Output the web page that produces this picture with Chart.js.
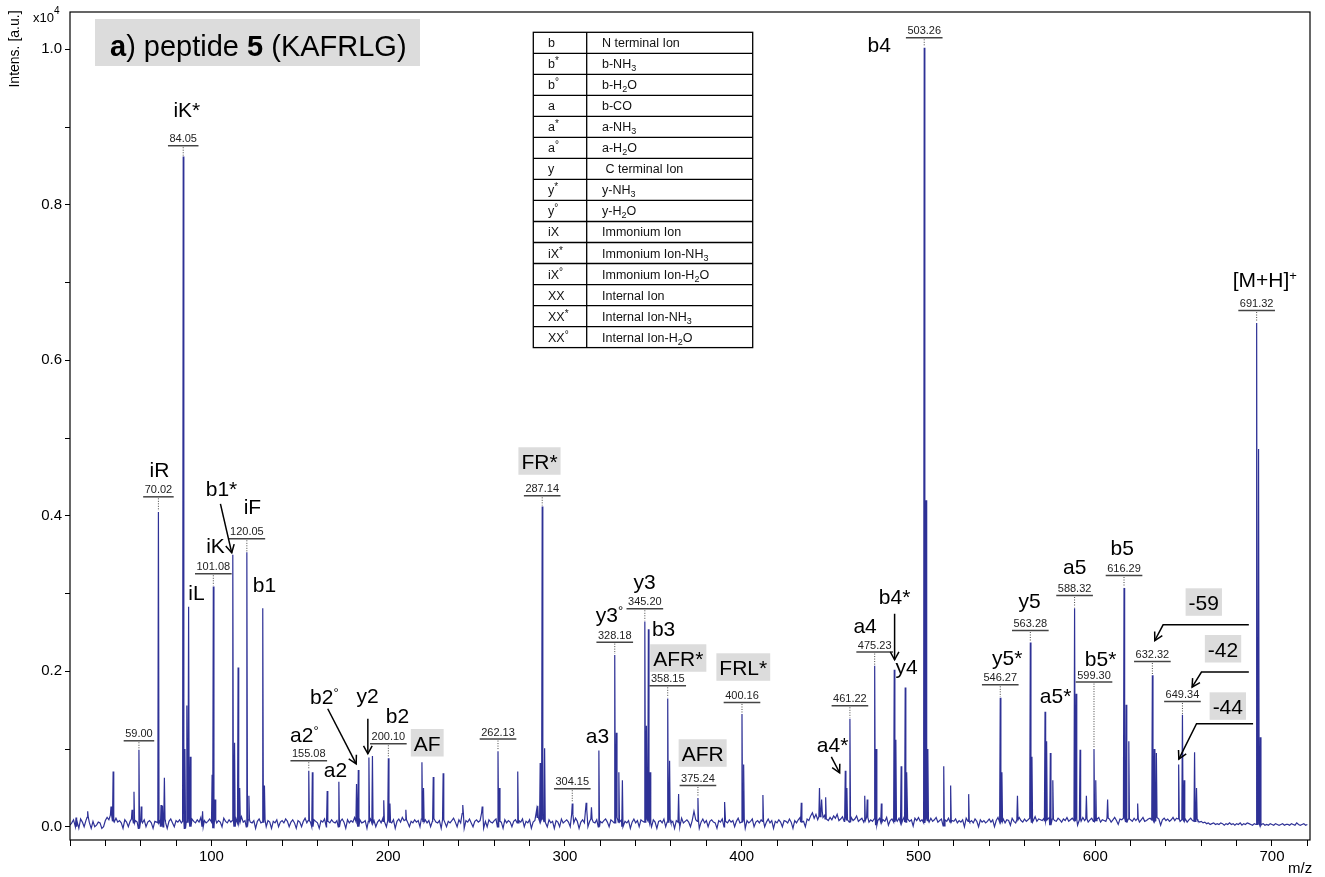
<!DOCTYPE html>
<html><head><meta charset="utf-8">
<script src="https://cdn.jsdelivr.net/npm/chart.js@4.4.0/dist/chart.umd.min.js"></script>
<style>html,body{margin:0;padding:0;background:#fff;}#wrap{width:1325px;height:877px;}</style>
</head><body><div id="wrap"><canvas id="c" width="1325" height="877"></canvas></div>
<script>
// ---------- DATA ----------
// baseline noise, one value per m/z unit starting at m/z 20, in thousandths of 1e4 counts
const baselineStartMz = 20;
const baselinePermil = [
 2,5,9,0,7,-2,10,6,0,8,
 12,5,-2,7,0,2,6,5,-2,0,
 8,12,9,15,7,6,11,6,8,5,
 -2,9,6,0,7,10,5,8,6,-2,
 7,5,9,0,6,8,5,-2,7,6,
 5,8,0,9,6,-2,7,10,5,0,
 8,6,9,5,7,-2,6,8,0,10,
 7,5,9,6,12,0,8,5,7,10,
 6,-2,9,5,8,6,0,11,7,5,
 9,6,8,0,10,5,7,13,6,8,
 0,9,6,5,8,-2,7,10,5,6,
 9,0,8,6,-2,7,5,9,0,6,
 8,5,10,7,0,6,9,5,-2,8,
 6,0,7,11,5,8,6,0,9,7,
 5,-2,8,6,10,0,7,5,9,6,
 5,8,0,7,10,6,-2,9,5,8,
 6,12,7,0,9,5,6,8,-2,7,
 10,5,8,0,6,9,5,11,7,0,
 8,6,5,9,-2,7,10,6,12,8,
 9,6,0,7,5,9,6,8,0,10,
 6,9,5,8,0,7,10,6,5,8,
 -2,9,6,0,7,5,8,11,6,0,
 9,5,17,-2,8,6,10,5,0,7,
 9,6,8,18,-2,7,0,9,6,5,
 8,10,0,7,6,-2,9,5,8,6,
 0,7,9,5,8,6,10,0,7,5,
 9,-2,6,8,22,12,7,10,8,6,
 0,9,5,7,-2,8,6,0,10,5,
 7,9,6,0,16,5,11,7,-2,6,
 9,5,22,0,7,10,6,5,9,0,
 7,5,8,10,6,0,9,7,5,12,
 8,6,9,0,7,5,8,-2,6,10,
 5,8,0,9,7,6,10,8,5,0,
 9,6,-2,7,8,5,10,0,6,9,
 5,7,-2,8,6,0,11,5,7,9,
 6,0,8,20,9,7,-2,6,10,5,
 8,0,7,9,6,5,-2,8,6,10,
 0,7,5,9,6,8,0,7,11,5,
 6,9,-2,8,5,7,10,0,6,8,
 5,9,7,0,6,10,5,8,-2,7,
 5,9,6,0,8,7,5,10,6,-2,
 8,5,9,12,6,7,0,10,8,14,
 18,11,16,9,13,20,12,15,10,8,
 12,9,14,11,16,8,10,13,7,11,
 9,6,12,8,10,14,7,9,11,6,
 8,12,6,9,7,10,2,8,11,6,
 9,7,12,2,8,10,6,9,7,11,
 5,8,13,6,10,7,9,1,11,8,
 12,7,9,5,10,8,6,11,7,9,
 12,6,8,10,1,9,7,11,6,8,
 7,10,5,8,6,9,0,11,7,6,
 8,5,10,7,0,9,6,8,5,7,
 10,6,9,0,8,12,6,7,10,5,
 9,8,2,11,7,5,9,12,8,6,
 10,7,9,11,6,8,13,7,10,9,
 8,11,7,9,12,2,10,8,7,11,
 9,6,10,8,12,7,9,11,8,10,
 2,9,7,12,8,10,6,9,11,7,
 8,10,12,6,9,8,7,11,10,6,
 9,12,8,3,10,9,11,8,6,10,
 9,7,11,8,10,6,9,12,7,8,
 10,11,9,7,8,12,10,2,9,11,
 8,10,7,9,12,8,11,10,7,9,
 8,10,6,9,11,8,7,10,8,6,
 7,5,6,4,5,3,4,5,3,4,
 3,5,4,2,4,3,5,3,4,2,
 4,3,5,2,4,3,5,4,3,2,
 4,3,4,2,3,4,2,3,2,4,
 3,2,4,3,2,3,4,2,3,3,
 2,4,3,2,5,3,2,3,4,2,
 3
];
// peaks: m/z and intensity (x10^4)
const peakMz = [
 23.4, 30.0, 43.2, 44.4, 55.1, 56.2, 59.00, 60.3, 70.02, 71.5,
 72.3, 73.4, 84.05, 85.0, 86.1, 87.1, 88.1, 95.0, 100.4, 101.08,
 102.1, 112.1, 113.1, 115.1, 116.0, 120.05, 121.2, 129.05, 130.0, 155.08,
 157.1, 165.5, 172.1, 182.1, 183.1, 189.1, 191.1, 197.5, 200.10, 201.0,
 210.0, 219.1, 220.0, 225.5, 231.1, 242.2, 253.2, 262.13, 262.9, 273.3,
 284.6, 286.0, 287.14, 288.5, 304.15, 312.0, 315.0, 319.2, 328.18, 329.1,
 330.5, 332.5, 345.20, 346.1, 347.2, 348.2, 358.15, 359.2, 364.3, 375.24,
 390.5, 400.16, 401.1, 412.0, 433.7, 444.0, 445.2, 447.5, 458.6, 459.5,
 461.22, 469.6, 471.0, 475.23, 476.1, 479.0, 486.3, 487.2, 490.2, 492.5,
 493.5, 503.26, 504.3, 505.3, 514.3, 518.2, 528.4, 546.27, 547.2, 556.0,
 563.28, 564.2, 571.6, 572.5, 574.6, 576.0, 588.32, 589.2, 591.4, 595.0,
 599.30, 600.3, 607.0, 616.29, 617.5, 619.0, 624.0, 632.32, 633.4, 634.6,
 647.2, 649.34, 650.3, 656.2, 657.3, 691.32, 692.4, 693.4
];
const peakIntensity = [
 0.012, 0.020, 0.026, 0.071, 0.022, 0.045, 0.099, 0.026, 0.405, 0.028,
 0.027, 0.063, 0.862, 0.100, 0.156, 0.283, 0.090, 0.020, 0.067, 0.309,
 0.035, 0.350, 0.108, 0.205, 0.050, 0.353, 0.040, 0.281, 0.053, 0.072,
 0.070, 0.046, 0.058, 0.055, 0.073, 0.089, 0.091, 0.034, 0.088, 0.030,
 0.022, 0.083, 0.050, 0.064, 0.069, 0.028, 0.026, 0.097, 0.050, 0.071,
 0.027, 0.082, 0.412, 0.101, 0.030, 0.031, 0.025, 0.098, 0.221, 0.121,
 0.070, 0.060, 0.264, 0.130, 0.254, 0.070, 0.165, 0.085, 0.042, 0.037,
 0.032, 0.145, 0.080, 0.041, 0.031, 0.050, 0.035, 0.038, 0.072, 0.050,
 0.139, 0.040, 0.035, 0.207, 0.100, 0.030, 0.202, 0.112, 0.078, 0.179,
 0.070, 1.002, 0.420, 0.100, 0.078, 0.053, 0.042, 0.166, 0.070, 0.040,
 0.237, 0.090, 0.148, 0.110, 0.095, 0.060, 0.281, 0.171, 0.099, 0.040,
 0.100, 0.060, 0.035, 0.307, 0.157, 0.110, 0.030, 0.195, 0.100, 0.095,
 0.080, 0.144, 0.060, 0.096, 0.050, 0.648, 0.486, 0.115
];
const xTickValues = [20,40,60,80,100,120,140,160,180,200,220,240,260,280,300,320,340,360,380,400,420,440,460,480,500,520,540,560,580,600,620,640,660,680,700,720];
const xLabelValues = [100,200,300,400,500,600,700];
const yTickValues = [0,0.1,0.2,0.3,0.4,0.5,0.6,0.7,0.8,0.9,1.0];
const yLabelValues = [0,0.2,0.4,0.6,0.8,1.0];

// ---------- ANNOTATIONS (text, anchored in data space) ----------
// [peak m/z, label, level of underline]
const massLabels = [
 [59.00,'59.00',0.1106],[70.02,'70.02',0.4244],[84.05,'84.05',0.876],[101.08,'101.08',0.3254],
 [120.05,'120.05',0.3704],[155.08,'155.08',0.0849],[200.10,'200.10',0.1067],[262.13,'262.13',0.1128],
 [287.14,'287.14',0.4257],[304.15,'304.15',0.0489],[328.18,'328.18',0.2375],[345.20,'345.20',0.2804],
 [358.15,'358.15',0.1813],[375.24,'375.24',0.0531],[400.16,'400.16',0.1599],[461.22,'461.22',0.1556],
 [475.23,'475.23',0.2247],[503.26,'503.26',1.0148],[546.27,'546.27',0.1826],[563.28,'563.28',0.2525],
 [588.32,'588.32',0.2975],[599.30,'599.30',0.1861],[616.29,'616.29',0.3232],[632.32,'632.32',0.2126],
 [649.34,'649.34',0.1612],[691.32,'691.32',0.664]
];
// [text, superscript, centre m/z, baseline level, grey box]
const ionLabels = [
 ['iK*','',86.1,0.9132,0],['iR','',70.6,0.4502,0],['b1*','',105.7,0.4257,0],['iF','',123.2,0.4026,0],
 ['iK','',102.3,0.3524,0],['iL','',91.5,0.2920,0],['b1','',130.0,0.3023,0],['a2','\u00B0',152.6,0.1093,0],
 ['a2','',170.2,0.0643,0],['b2','\u00B0',163.9,0.1582,0],['y2','',188.3,0.1595,0],['b2','',205.3,0.1338,0],
 ['AF','',222.1,0.0981,1],['FR*','',285.6,0.4605,1],['a3','',318.4,0.1080,0],['y3','\u00B0',325.2,0.2628,0],
 ['y3','',345.0,0.3061,0],['b3','',355.8,0.2457,0],['AFR*','',364.1,0.2071,1],['FRL*','',400.9,0.1955,1],
 ['AFR','',377.9,0.0849,1],['a4*','',451.4,0.0968,0],['a4','',469.8,0.2495,0],['b4*','',486.5,0.2868,0],
 ['y4','',493.3,0.1968,0],['b4','',477.8,0.9968,0],['y5*','',550.2,0.2084,0],['y5','',562.9,0.2817,0],
 ['a5*','',577.6,0.1595,0],['a5','',588.4,0.3254,0],['b5*','',603.0,0.2062,0],['b5','',615.3,0.3498,0],
 ['-59','',661.4,0.2791,1],['-42','',672.3,0.2190,1],['-44','',675.0,0.1453,1],['[M+H]','+',695.9,0.6945,0]
];
const arrows = [
 [[105.1,0.4154],[111.5,0.3524]],
 [[165.8,0.1518],[181.9,0.0810]],
 [[188.5,0.1389],[188.5,0.0939]],
 [[450.7,0.0900],[455.4,0.0695]],
 [[486.5,0.2740],[486.5,0.2148]],
 [[686.9,0.2598],[638.4,0.2598],[633.7,0.2396]],
 [[686.9,0.1990],[660.1,0.1990],[654.8,0.1797]],
 [[689.3,0.1325],[657.3,0.1325],[647.3,0.0871]]
];
const legendLeft = [['b',''],['b','*'],['b','\u00B0'],['a',''],['a','*'],['a','\u00B0'],['y',''],['y','*'],['y','\u00B0'],['iX',''],['iX','*'],['iX','\u00B0'],['XX',''],['XX','*'],['XX','\u00B0']];
const legendRight = [['N terminal Ion'],['b-NH','3'],['b-H','2','O'],['b-CO'],['a-NH','3'],['a-H','2','O'],[' C terminal Ion'],['y-NH','3'],['y-H','2','O'],['Immonium Ion'],['Immonium Ion-NH','3'],['Immonium Ion-H','2','O'],['Internal Ion'],['Internal Ion-NH','3'],['Internal Ion-H','2','O']];

// ---------- BUILD SPECTRUM ----------
const spectrum = [];
baselinePermil.forEach((v,i)=>{
  const mz = baselineStartMz + i;
  if (!peakMz.some(p=>Math.abs(p-mz)<0.45)) spectrum.push({x:mz, y:v/1000});
});
peakMz.forEach((mz,i)=>{
  const idx = Math.min(baselinePermil.length-1, Math.max(0, Math.round(mz)-baselineStartMz));
  const base = baselinePermil[idx]/1000;
  spectrum.push({x:mz-0.35, y:base});
  spectrum.push({x:mz, y:peakIntensity[i]});
  spectrum.push({x:mz+0.35, y:base});
});
spectrum.sort((a,b)=>a.x-b.x);

const FONT = "'Liberation Sans', Arial, Helvetica, sans-serif";
const TICKFONT = "'Liberation Sans Narrow', 'Liberation Sans', Arial, sans-serif";

function drawSegs(ctx, segs, x, y, align){
  let w = 0;
  segs.forEach(s=>{ctx.font=s.font; s.w=ctx.measureText(s.t).width; w+=s.w;});
  let sx = align==='center' ? x-w/2 : x;
  const start = sx;
  segs.forEach(s=>{ctx.font=s.font; ctx.fillText(s.t, sx, y+(s.dy||0)); sx+=s.w;});
  return {x:start, w:w};
}
function measureSegs(ctx, segs){
  let w=0; segs.forEach(s=>{ctx.font=s.font; w+=ctx.measureText(s.t).width;}); return w;
}

const annot = {
  id:'annot',
  afterDraw(chart){
    const {ctx, chartArea:a, scales:{x, y}} = chart;
    ctx.save();
    ctx.textAlign='left'; ctx.textBaseline='alphabetic';
    // frame
    ctx.strokeStyle='#000'; ctx.lineWidth=1.2;
    ctx.strokeRect(a.left, a.top, a.right-a.left, a.bottom-a.top);

    // y axis title and exponent
    ctx.fillStyle='#000';
    ctx.save(); ctx.translate(19, 49); ctx.rotate(-Math.PI/2);
    ctx.font='14px '+FONT; ctx.textAlign='center'; ctx.fillText('Intens. [a.u.]', 0, 0);
    ctx.restore();
    drawSegs(ctx, [{t:'x10', font:'13px '+FONT},{t:'4', font:'10px '+FONT, dy:-8}], 33, 22, 'left');
    ctx.font='15px '+FONT; ctx.fillText('m/z', 1288, 873);

    // title
    ctx.fillStyle='#dcdcdc'; ctx.fillRect(95, 19, 325, 47);
    ctx.fillStyle='#000';
    drawSegs(ctx, [{t:'a', font:'bold 29px '+FONT},{t:') peptide ', font:'29px '+FONT},{t:'5', font:'bold 29px '+FONT},{t:' (KAFRLG)', font:'29px '+FONT}], 110, 56, 'left');

    // legend table
    const tl=533.3, tr=752.7, tt=32.3, rh=21.02, tdv=586.7, nr=legendLeft.length;
    ctx.fillStyle='#fff'; ctx.fillRect(tl, tt, tr-tl, rh*nr);
    ctx.strokeStyle='#000'; ctx.lineWidth=1.3;
    ctx.strokeRect(tl, tt, tr-tl, rh*nr);
    ctx.beginPath();
    for(let i=1;i<nr;i++){ ctx.moveTo(tl, tt+rh*i); ctx.lineTo(tr, tt+rh*i); }
    ctx.moveTo(tdv, tt); ctx.lineTo(tdv, tt+rh*nr);
    ctx.stroke();
    ctx.fillStyle='#111';
    legendLeft.forEach((r,i)=>{
      const by = tt+rh*i+15;
      drawSegs(ctx, [{t:r[0], font:'12.5px '+FONT},{t:r[1], font:'10px '+FONT, dy:-4}], 548, by, 'left');
      const rr = legendRight[i];
      const segs=[{t:rr[0], font:'12.5px '+FONT}];
      if (rr[1]) segs.push({t:rr[1], font:'9px '+FONT, dy:3});
      if (rr[2]) segs.push({t:rr[2], font:'12.5px '+FONT});
      drawSegs(ctx, segs, 602, by, 'left');
    });

    // mass labels
    massLabels.forEach(m=>{
      const px = x.getPixelForValue(m[0]);
      const uy = y.getPixelForValue(m[2]);
      ctx.font='11px '+FONT; const w = ctx.measureText(m[1]).width;
      ctx.fillStyle='#222'; ctx.textAlign='center';
      ctx.fillText(m[1], px, uy-3.5);
      ctx.textAlign='left';
      ctx.strokeStyle='#444'; ctx.lineWidth=1.5;
      ctx.beginPath(); ctx.moveTo(px-w/2-1.5, uy); ctx.lineTo(px+w/2+1.5, uy); ctx.stroke();
      const pi = peakMz.findIndex(p=>Math.abs(p-m[0])<1e-6);
      if (pi>=0){
        const py = y.getPixelForValue(peakIntensity[pi]);
        ctx.strokeStyle='#444'; ctx.lineWidth=1; ctx.setLineDash([1,1.5]);
        ctx.beginPath(); ctx.moveTo(px, uy+1.5); ctx.lineTo(px, py-1); ctx.stroke();
        ctx.setLineDash([]);
      }
    });

    // ion labels
    ionLabels.forEach(l=>{
      const px = x.getPixelForValue(l[2]);
      const by = y.getPixelForValue(l[3]);
      const segs=[{t:l[0], font:'21px '+FONT}];
      if (l[1]) segs.push({t:l[1], font:'13px '+FONT, dy:-7});
      const w = measureSegs(ctx, segs);
      if (l[4]){ ctx.fillStyle='#dcdcdc'; ctx.fillRect(px-w/2-3, by-21.5, w+6, 27.5); }
      ctx.fillStyle='#000';
      drawSegs(ctx, segs, px, by, 'center');
    });

    // arrows
    ctx.strokeStyle='#000'; ctx.lineWidth=1.5; ctx.lineJoin='miter';
    arrows.forEach(pts=>{
      const pp = pts.map(p=>[x.getPixelForValue(p[0]), y.getPixelForValue(p[1])]);
      ctx.beginPath(); ctx.moveTo(pp[0][0], pp[0][1]);
      for(let i=1;i<pp.length;i++) ctx.lineTo(pp[i][0], pp[i][1]);
      ctx.stroke();
      const e = pp[pp.length-1], s = pp[pp.length-2];
      const ang = Math.atan2(e[1]-s[1], e[0]-s[0]);
      const L = 9, da = 0.5;
      ctx.beginPath();
      ctx.moveTo(e[0]-L*Math.cos(ang-da), e[1]-L*Math.sin(ang-da));
      ctx.lineTo(e[0], e[1]);
      ctx.lineTo(e[0]-L*Math.cos(ang+da), e[1]-L*Math.sin(ang+da));
      ctx.stroke();
    });
    ctx.restore();
  }
};

new Chart(document.getElementById('c').getContext('2d'), {
  type:'line',
  data:{datasets:[{data:spectrum, borderColor:'#2e3196', borderWidth:1.2, pointRadius:0, tension:0, fill:false}]},
  options:{
    responsive:false, animation:false, parsing:false, normalized:true,
    layout:{padding:{left:0, right:15, top:12, bottom:0}},
    plugins:{legend:{display:false}, tooltip:{enabled:false}, title:{display:false}},
    scales:{
      x:{
        type:'linear', min:20, max:721.5,
        afterBuildTicks:s=>{ s.ticks = xTickValues.map(v=>({value:v})); },
        afterFit:s=>{ s.height = 37; },
        grid:{drawOnChartArea:false, drawTicks:true, tickLength:6, color:'#000', lineWidth:1},
        border:{display:false},
        ticks:{autoSkip:false, maxRotation:0, minRotation:0, padding:2, color:'#000',
          font:{family:TICKFONT, size:15},
          callback:(v)=> xLabelValues.includes(v) ? String(v) : ''}
      },
      y:{
        type:'linear', min:-0.017, max:1.048,
        afterBuildTicks:s=>{ s.ticks = yTickValues.map(v=>({value:v})); },
        afterFit:s=>{ s.width = 70; },
        grid:{drawOnChartArea:false, drawTicks:true, tickLength:5, color:'#000', lineWidth:1},
        border:{display:false},
        ticks:{padding:3, color:'#000', font:{family:TICKFONT, size:15},
          callback:(v)=> yLabelValues.some(l=>Math.abs(l-v)<1e-9) ? Number(v).toFixed(1) : ''}
      }
    }
  },
  plugins:[annot]
});
</script>
</body></html>
